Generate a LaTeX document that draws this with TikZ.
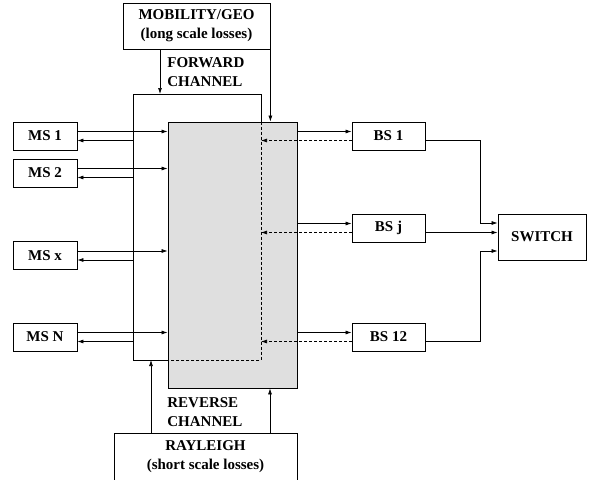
\documentclass[tikz,border=0pt]{standalone}
\usepackage{fontspec}
\setmainfont{Liberation Serif}
\usetikzlibrary{
    arrows.meta,
    positioning,
    calc,
}
\tikzset{
    blk/.style={draw, line width=0.8pt, minimum height=28pt, inner sep=0pt},
    tip/.style={-{Latex[length=6pt,width=4pt]}},
    dsh/.style={dash pattern=on 3pt off 2pt},
}

\begin{document}
\begin{tikzpicture}[x=1pt, y=-1pt, line width=0.7pt,
        font=\fontsize{15}{19}\selectfont\bfseries]
        \useasboundingbox (0,0) rectangle (591,479);
        \node[blk, fill=gray!25, minimum width=129pt, minimum height=266pt] (chan) at (232.5,255) {};
        \coordinate (fwdnw) at (133,94);
        \coordinate (fwdse) at (261,360);
        \draw (chan.west |- fwdse) -- (fwdnw |- fwdse) -- (fwdnw)
            -- (fwdnw -| fwdse) -- (fwdse |- chan.north);
        \draw[dsh] (fwdse |- chan.north) -- (fwdse) -- (chan.west |- fwdse);

        \node[blk, minimum width=147pt, minimum height=46pt, align=center] (mob) at (196.5,26)
            {MOBILITY/GEO\\(long scale losses)};
        \node[blk, minimum width=183pt, minimum height=48pt, align=center] (ray) at (205.5,457)
            {RAYLEIGH\\(short scale losses)};
        \node[anchor=west, align=left, inner sep=0pt] (fwdlbl) at (167,72.5) {FORWARD\\CHANNEL};
        \node[anchor=west, align=left, inner sep=0pt] (revlbl) at (167,412) {REVERSE\\CHANNEL};

        \draw[tip] ([xshift=-36.5pt]mob.south) -- ([xshift=-36.5pt]mob.south |- fwdnw);
        \draw[tip] (mob.south east) -- (mob.south east |- chan.north);
        \draw[tip] ([xshift=-54.5pt]ray.north) -- ([xshift=-54.5pt]ray.north |- fwdse);
        \draw[tip] ([xshift=64.5pt]ray.north) -- ([xshift=64.5pt]ray.north |- chan.south);

        % mobile stations
        \node[blk, minimum width=64pt] (ms1) at (45,136) {MS 1};
        \node[blk, minimum width=64pt] (ms2) at (45,173) {MS 2};
        \node[blk, minimum width=64pt] (msx) at (45,255.5) {MS x};
        \node[blk, minimum width=64pt] (msn) at (45,337) {MS N};
        \draw[tip] ([yshift=4.5pt]ms1.east) -- ([yshift=4.5pt]ms1.east -| chan.west);
        \draw[tip] ([yshift=-4.5pt]ms1.east -| fwdnw) -- ([yshift=-4.5pt]ms1.east);
        \draw[tip] ([yshift=4.5pt]ms2.east) -- ([yshift=4.5pt]ms2.east -| chan.west);
        \draw[tip] ([yshift=-4.5pt]ms2.east -| fwdnw) -- ([yshift=-4.5pt]ms2.east);
        \draw[tip] ([yshift=4.5pt]msx.east) -- ([yshift=4.5pt]msx.east -| chan.west);
        \draw[tip] ([yshift=-4.5pt]msx.east -| fwdnw) -- ([yshift=-4.5pt]msx.east);
        \draw[tip] ([yshift=4.5pt]msn.east) -- ([yshift=4.5pt]msn.east -| chan.west);
        \draw[tip] ([yshift=-4.5pt]msn.east -| fwdnw) -- ([yshift=-4.5pt]msn.east);

        % base stations
        \node[blk, minimum width=73pt] (bs1) at (388.5,136) {BS 1};
        \node[blk, minimum width=73pt] (bsj) at (388.5,228) {BS j};
        \node[blk, minimum width=73pt] (bs12) at (388.5,337) {BS 12};
        \draw[tip] ([yshift=4.5pt]bs1.west -| chan.east) -- ([yshift=4.5pt]bs1.west);
        \draw[tip, dsh] ([yshift=-4.5pt]bs1.west) -- ([yshift=-4.5pt]bs1.west -| fwdse);
        \draw[tip] ([yshift=4.5pt]bsj.west -| chan.east) -- ([yshift=4.5pt]bsj.west);
        \draw[tip, dsh] ([yshift=-4.5pt]bsj.west) -- ([yshift=-4.5pt]bsj.west -| fwdse);
        \draw[tip] ([yshift=4.5pt]bs12.west -| chan.east) -- ([yshift=4.5pt]bs12.west);
        \draw[tip, dsh] ([yshift=-4.5pt]bs12.west) -- ([yshift=-4.5pt]bs12.west -| fwdse);

        \node[blk, minimum width=88pt, minimum height=46pt] (sw) at (542,237) {SWITCH};
        \coordinate (bus) at (480,237);
        \draw[tip] ([yshift=-4.5pt]bs1.east) -| ([yshift=14pt]sw.west -| bus) -- ([yshift=14pt]sw.west);
        \draw[tip] ([yshift=-4.5pt]bsj.east) -- ([yshift=-4.5pt]bsj.east -| sw.west);
        \draw[tip] ([yshift=-4.5pt]bs12.east) -| ([yshift=-14pt]sw.west -| bus) -- ([yshift=-14pt]sw.west);
    \end{tikzpicture}
\end{document}
